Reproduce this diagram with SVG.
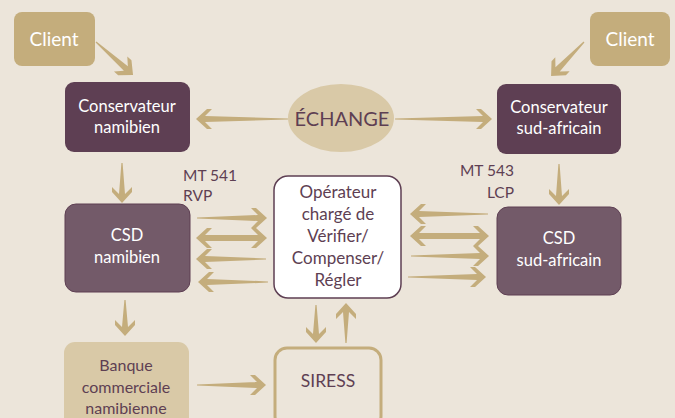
<svg xmlns="http://www.w3.org/2000/svg" width="675" height="418" viewBox="0 0 675 418">
<style>
text{font-family:Lato,"Open Sans","Liberation Sans",sans-serif;text-anchor:middle}
.w{fill:#ffffff;font-size:16.5px}
.d{fill:#5E3F53;font-size:16px}
.a{fill:#C4AD7C}
.gold{fill:#C4AD7C}
.sand{fill:#D9C9A7}
.dark{fill:#5E3F53}
.mid{fill:#735A69;stroke:#5E3F53;stroke-width:1}
</style>
<rect width="675" height="418" fill="#ECE5DA"/>
<g id="client-left"><rect class="gold" x="14" y="12" width="81" height="54" rx="8"/><text class="w" x="54" y="46" style="font-size:19px">Client</text></g>
<g id="client-right"><rect class="gold" x="590" y="12" width="80" height="54" rx="8"/><text class="w" x="630" y="46" style="font-size:19px">Client</text></g>
<g id="cons-nam"><rect class="dark" x="65" y="82" width="125" height="70" rx="9"/><text class="w" x="127" y="112">Conservateur</text><text class="w" x="127" y="133">namibien</text></g>
<g id="cons-sa"><rect class="dark" x="497" y="84" width="124" height="70" rx="9"/><text class="w" x="559" y="113">Conservateur</text><text class="w" x="559" y="134">sud-africain</text></g>
<g id="echange"><ellipse class="sand" cx="341" cy="118" rx="53" ry="34"/><text class="d" x="342" y="126" style="font-size:20px">ÉCHANGE</text></g>
<g id="csd-nam"><rect class="mid" x="65" y="204" width="125" height="88" rx="11"/><text class="w" x="127" y="241">CSD</text><text class="w" x="127" y="263">namibien</text></g>
<g id="csd-sa"><rect class="mid" x="497" y="207" width="124" height="88" rx="11"/><text class="w" x="559" y="244">CSD</text><text class="w" x="559" y="266">sud-africain</text></g>
<g id="operateur"><rect x="274" y="176" width="127" height="122" rx="14" fill="#ffffff" stroke="#5E3F53" stroke-width="1.5"/>
<g style="font-size:17px"><text class="d" x="338" y="198" style="font-size:17px">Opérateur</text><text class="d" x="338" y="220" style="font-size:17px">chargé de</text><text class="d" x="338" y="242" style="font-size:17px">Vérifier/</text><text class="d" x="338" y="264" style="font-size:17px">Compenser/</text><text class="d" x="338" y="286" style="font-size:17px">Régler</text></g></g>
<g id="banque"><rect class="sand" x="64" y="342" width="125" height="90" rx="11"/><text class="d" x="126" y="371">Banque</text><text class="d" x="126" y="393">commerciale</text><text class="d" x="126" y="414">namibienne</text></g>
<g id="siress"><rect x="275" y="348" width="106" height="80" rx="12" fill="none" stroke="#C4AD7C" stroke-width="3"/><text class="d" x="328" y="387" style="font-size:17.5px">SIRESS</text></g>
<g id="labels">
<text class="d" x="183" y="181" style="text-anchor:start;font-size:15.5px">MT 541</text>
<text class="d" x="183" y="201" style="text-anchor:start;font-size:15.5px">RVP</text>
<text class="d" x="514" y="176" style="text-anchor:end;font-size:15.5px">MT 543</text>
<text class="d" x="514" y="198" style="text-anchor:end;font-size:15.5px">LCP</text>
</g>
<g id="connectors" class="a">
<path transform="translate(96,42) rotate(41.7)" d="M0,-0.6 L40,-3 L33,-10 L38.6,-10 L49.6,0 L38.6,10 L33,10 L40,3 L0,0.6Z"/>
<path transform="translate(584,42) rotate(134)" d="M0,-0.6 L38,-3 L31,-10 L36.4,-10 L47.4,0 L36.4,10 L31,10 L38,3 L0,0.6Z"/>
<path transform="translate(288,119) rotate(180)" d="M0,-0.6 L83,-3 L76,-10 L81,-10 L92,0 L81,10 L76,10 L83,3 L0,0.6Z"/>
<path transform="translate(395,119)" d="M0,-0.6 L88,-3 L81,-10 L86,-10 L97,0 L86,10 L81,10 L88,3 L0,0.6Z"/>
<path transform="translate(122,163) rotate(90)" d="M0,-0.6 L31,-3 L24,-10 L29,-10 L40,0 L29,10 L24,10 L31,3 L0,0.6Z"/>
<path transform="translate(559,164) rotate(90)" d="M0,-0.6 L32,-3 L25,-10 L30,-10 L41,0 L30,10 L25,10 L32,3 L0,0.6Z"/>
<path transform="translate(125,300) rotate(90)" d="M0,-0.6 L27,-3 L20,-10 L25,-10 L36,0 L25,10 L20,10 L27,3 L0,0.6Z"/>
<path transform="translate(316,305) rotate(90)" d="M0,-0.6 L29,-3 L22,-10 L27,-10 L38,0 L27,10 L22,10 L29,3 L0,0.6Z"/>
<path transform="translate(346,343) rotate(-90)" d="M0,-0.6 L31,-3 L24,-10 L29,-10 L40,0 L29,10 L24,10 L31,3 L0,0.6Z"/>
<path transform="translate(197,218)" d="M0,-0.6 L61,-3 L54,-10 L59,-10 L70,0 L59,10 L54,10 L61,3 L0,0.6Z"/>
<path transform="translate(266,259) rotate(180)" d="M0,-0.6 L61,-3 L54,-10 L59,-10 L70,0 L59,10 L54,10 L61,3 L0,0.6Z"/>
<path transform="translate(268,282) rotate(180)" d="M0,-0.6 L61,-3 L54,-10 L59,-10 L70,0 L59,10 L54,10 L61,3 L0,0.6Z"/>
<path transform="translate(488,214) rotate(180)" d="M0,-0.6 L69,-3 L62,-10 L67,-10 L78,0 L67,10 L62,10 L69,3 L0,0.6Z"/>
<path transform="translate(411,256)" d="M0,-0.6 L69,-3 L62,-10 L67,-10 L78,0 L67,10 L62,10 L69,3 L0,0.6Z"/>
<path transform="translate(408,277)" d="M0,-0.6 L69,-3 L62,-10 L67,-10 L78,0 L67,10 L62,10 L69,3 L0,0.6Z"/>
<path transform="translate(197,385)" d="M0,-0.6 L60,-3 L53,-10 L58,-10 L69,0 L58,10 L53,10 L60,3 L0,0.6Z"/>
<path transform="translate(196,238)" d="M0,0 L11,-10 L16,-10 L9,-3 L62,-3 L55,-10 L60,-10 L71,0 L60,10 L55,10 L62,3 L9,3 L16,10 L11,10Z"/>
<path transform="translate(410,236)" d="M0,0 L11,-10 L16,-10 L9,-3 L70,-3 L63,-10 L68,-10 L79,0 L68,10 L63,10 L70,3 L9,3 L16,10 L11,10Z"/>
</g>
</svg>
